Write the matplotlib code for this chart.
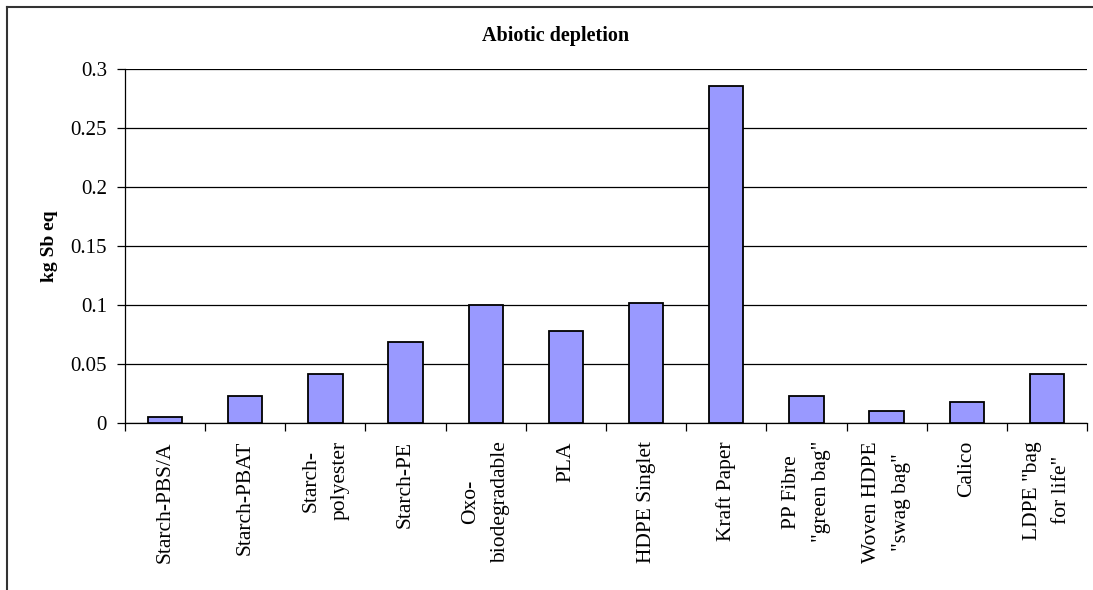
import numpy as np
import matplotlib
matplotlib.use("Agg")
import matplotlib.pyplot as plt
from matplotlib.ticker import FixedLocator, NullFormatter

plt.rcParams['font.family'] = ['Liberation Serif', 'DejaVu Serif']

categories = ["Starch-PBS/A", "Starch-PBAT", "Starch-\npolyester", "Starch-PE",
              "Oxo-\nbiodegradable", "PLA", "HDPE Singlet", "Kraft Paper",
              "PP Fibre\n\"green bag\"", "Woven HDPE\n\"swag bag\"", "Calico",
              "LDPE \"bag\nfor life\""]
values = [0.005, 0.023, 0.0415, 0.0685, 0.100, 0.078, 0.1015, 0.2855,
          0.023, 0.010, 0.018, 0.0415]
yticks = [0, 0.05, 0.1, 0.15, 0.2, 0.25, 0.3]
ytick_labels = ["0", "0.05", "0.1", "0.15", "0.2", "0.25", "0.3"]

W, H = 1093, 590
fig = plt.figure(figsize=(W / 100, H / 100), dpi=100)
ax = fig.add_axes([125 / W, 1 - 423 / H, (1087 - 125) / W, (423 - 69) / H])

x = np.arange(len(categories))
ax.bar(x, values, width=0.43, color="#9999FF", edgecolor="black", linewidth=1.3, zorder=3)

ax.set_xlim(-0.5, len(categories) - 0.5)
ax.set_ylim(0, 0.3)
ax.set_yticks(yticks)
ax.set_yticklabels(ytick_labels, fontsize=15)
ax.tick_params(axis='y', direction='out', length=6, width=0.9, pad=7)
ax.yaxis.grid(True, color="black", linewidth=0.9, zorder=1)

# ticks between categories, labels at centres
ax.xaxis.set_major_locator(FixedLocator(np.arange(-0.5, len(categories), 1.0)))
ax.xaxis.set_major_formatter(NullFormatter())
ax.set_xticks(x, minor=True)
ax.set_xticklabels(categories, minor=True, rotation=90, fontsize=15.5,
                   ha='center', va='top', multialignment='center', linespacing=1.75)
ax.tick_params(axis='x', which='major', direction='out', length=6, width=0.9)
ax.tick_params(axis='x', which='minor', length=0, pad=13)

for s in ["top", "right"]:
    ax.spines[s].set_visible(False)
for s in ["left", "bottom"]:
    ax.spines[s].set_linewidth(0.9)

ax.set_ylabel("kg Sb eq", fontsize=14, fontweight='bold', labelpad=9)
fig.text(556 / W, 1 - 36 / H, "Abiotic depletion", fontsize=14.5, fontweight='bold',
         ha='center', va='center')

# outer chart frame (cut off at right and bottom)
fig.add_artist(plt.Line2D([7 / W, 7 / W], [1 - 7 / H, 0], color="#333333", linewidth=1.5))
fig.add_artist(plt.Line2D([7 / W, 1], [1 - 7 / H, 1 - 7 / H], color="#333333", linewidth=1.5))

fig.savefig("out.png", dpi=100)
